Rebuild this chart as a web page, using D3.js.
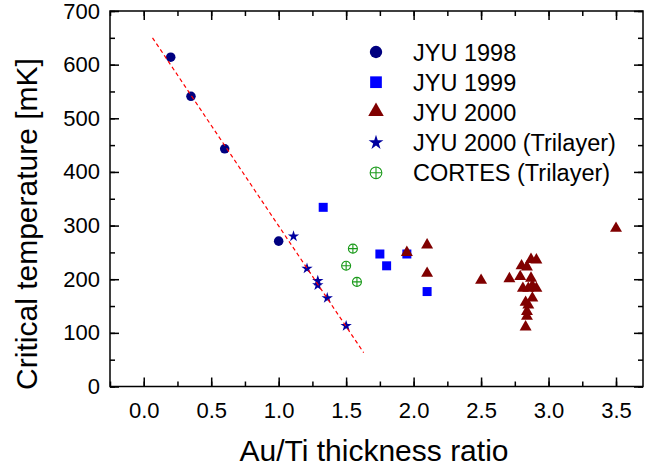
<!DOCTYPE html>
<html>
<head>
<meta charset="utf-8">
<script src="https://cdn.jsdelivr.net/npm/d3@7"></script>
<style>
  body { margin: 0; background: #fff; }
  svg { font-family: "Liberation Sans", Arial, Helvetica, sans-serif; }
  .axis text { font-size: 22px; fill: #000; }
  .axis line { stroke: #000; stroke-width: 1.5; }
  .axis path { display: none; }
</style>
</head>
<body>
<div id="chart"></div>
<script>
// Data
const jyu1998X = [0.2, 0.35, 0.6, 1.0];
const jyu1998Tc = [614, 541, 443, 271];

const jyu1999X = [1.33, 1.75, 1.8, 1.95, 2.1];
const jyu1999Tc = [334, 247, 225, 247, 177];

const jyu2000X = [1.95, 2.1, 2.1, 2.5, 2.71, 2.79, 2.8, 2.87, 2.91, 2.84, 2.87, 2.88, 2.91, 2.81, 2.85, 2.88, 2.83, 2.85, 2.84, 2.84, 2.83, 3.5];
const jyu2000Tc = [248, 262, 209, 196, 199, 203, 223, 235, 234, 221, 200, 186, 181, 181, 181, 163, 155, 150, 138, 129, 109, 293];

const trilayerX = [1.11, 1.21, 1.29, 1.29, 1.36, 1.5];
const trilayerTc = [280, 220, 197, 189, 165, 113];

const cortesX = [1.55, 1.5, 1.58];
const cortesTc = [257, 225, 195];

// dashed linear guide
const fitX = [0.065, 1.63];
const fitTc = [650, 63];

const xTicks = [0, 0.5, 1, 1.5, 2, 2.5, 3, 3.5];
const yTicks = [0, 100, 200, 300, 400, 500, 600, 700];

const legendLabels = ["JYU 1998", "JYU 1999", "JYU 2000", "JYU 2000 (Trilayer)", "CORTES (Trilayer)"];

const zip = (xs, ys) => xs.map((x, i) => ({ x: x, y: ys[i] }));

const W = 645, H = 468;
const svg = d3.select("#chart").append("svg")
    .attr("width", W)
    .attr("height", H);

const x = d3.scaleLinear().domain([-0.25, 3.7]).range([110, 643]);
const y = d3.scaleLinear().domain([0, 700]).range([386.5, 11]);

const xMinor = d3.range(-0.25, 3.7, 0.25);
const yMinor = d3.range(0, 701, 50);

// major + minor ticks on all four sides, pointing inward
svg.append("g").attr("class", "axis")
    .attr("transform", `translate(0,${y(0)})`)
    .call(d3.axisBottom(x).tickValues(xMinor).tickSize(-5).tickFormat(""));
svg.append("g").attr("class", "axis")
    .attr("transform", `translate(0,${y(0)})`)
    .call(d3.axisBottom(x).tickValues(xTicks).tickSize(-9).tickPadding(16).tickFormat(d3.format(".1f")));
svg.append("g").attr("class", "axis")
    .attr("transform", `translate(0,${y(700)})`)
    .call(d3.axisTop(x).tickValues(xMinor).tickSize(-5).tickFormat(""));
svg.append("g").attr("class", "axis")
    .attr("transform", `translate(0,${y(700)})`)
    .call(d3.axisTop(x).tickValues(xTicks).tickSize(-9).tickFormat(""));

svg.append("g").attr("class", "axis")
    .attr("transform", `translate(${x(-0.25)},0)`)
    .call(d3.axisLeft(y).tickValues(yMinor).tickSize(-5).tickFormat(""));
svg.append("g").attr("class", "axis")
    .attr("transform", `translate(${x(-0.25)},0)`)
    .call(d3.axisLeft(y).tickValues(yTicks).tickSize(-9).tickPadding(10).tickFormat(d3.format("d")));
svg.append("g").attr("class", "axis")
    .attr("transform", `translate(${x(3.7)},0)`)
    .call(d3.axisRight(y).tickValues(yMinor).tickSize(-5).tickFormat(""));
svg.append("g").attr("class", "axis")
    .attr("transform", `translate(${x(3.7)},0)`)
    .call(d3.axisRight(y).tickValues(yTicks).tickSize(-9).tickFormat(""));

// frame
svg.append("rect")
    .attr("x", x(-0.25))
    .attr("y", y(700))
    .attr("width", x(3.7) - x(-0.25))
    .attr("height", y(0) - y(700))
    .attr("fill", "none")
    .attr("stroke", "#000")
    .attr("stroke-width", 1.5);

// marker drawing helpers
const colors = ["#000080", "#0000ff", "#800000", "#0000a0", "#1a9a1a"];

function drawMarker(g, kind, k) {
    if (kind === 0) {
        g.append("path").attr("d", d3.symbol(d3.symbolCircle, 71 * k * k)()).attr("fill", colors[0]);
    } else if (kind === 1) {
        g.append("path").attr("d", d3.symbol(d3.symbolSquare, 81 * k * k)()).attr("fill", colors[1]);
    } else if (kind === 2) {
        g.append("path").attr("d", d3.symbol(d3.symbolTriangle, 62 * k * k)())
            .attr("transform", "translate(0,-1)").attr("fill", colors[2]);
    } else if (kind === 3) {
        g.append("path").attr("d", d3.symbol(d3.symbolStar, 40 * k * k)()).attr("fill", colors[3]);
    } else {
        const r = 4.5 * k;
        g.append("circle").attr("r", r).attr("fill", "none").attr("stroke", colors[4]).attr("stroke-width", 1.1);
        g.append("path").attr("d", `M${-r},0H${r}M0,${-r}V${r}`).attr("stroke", colors[4]).attr("stroke-width", 1.1);
    }
}

const series = [
    zip(jyu1998X, jyu1998Tc),
    zip(jyu1999X, jyu1999Tc),
    zip(jyu2000X, jyu2000Tc),
    zip(trilayerX, trilayerTc),
    zip(cortesX, cortesTc)
];

[1, 2, 4, 3, 0].forEach(kind => {
    svg.append("g").selectAll("g")
        .data(series[kind])
        .enter()
        .append("g")
        .attr("transform", d => `translate(${x(d.x)},${y(d.y)})`)
        .each(function () { drawMarker(d3.select(this), kind, 1); });
});

// red dashed guide line (drawn on top)
svg.append("path")
    .datum(zip(fitX, fitTc))
    .attr("fill", "none")
    .attr("stroke", "#ff0000")
    .attr("stroke-width", 1.2)
    .attr("stroke-dasharray", "4,3")
    .attr("d", d3.line().x(d => x(d.x)).y(d => y(d.y)));

// legend
const legend = svg.append("g").attr("transform", "translate(376,52)");
legendLabels.forEach((label, i) => {
    const row = legend.append("g").attr("transform", `translate(0,${i * 30.2})`);
    drawMarker(row, i, 1.3);
    row.append("text")
        .attr("x", 37)
        .attr("y", 8.5)
        .style("font-size", "23.5px")
        .text(label);
});

// axis titles
svg.append("text")
    .attr("x", 374)
    .attr("y", 461)
    .attr("text-anchor", "middle")
    .style("font-size", "30px")
    .text("Au/Ti thickness ratio");

svg.append("text")
    .attr("transform", "rotate(-90)")
    .attr("x", -224)
    .attr("y", 37)
    .attr("text-anchor", "middle")
    .style("font-size", "30px")
    .text("Critical temperature [mK]");
</script>
</body>
</html>
